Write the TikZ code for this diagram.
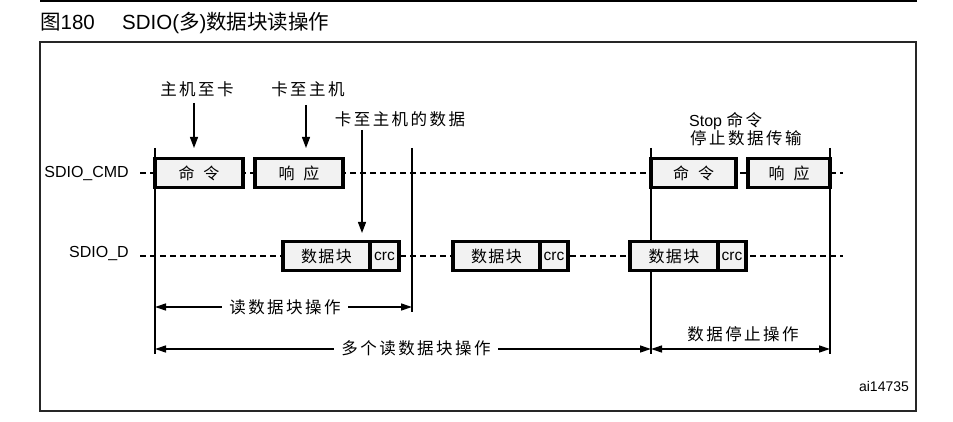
\documentclass[tikz,border=0pt]{standalone}
\usepackage{fontspec}
\setmainfont{Liberation Sans}
\newfontfamily\cjk{Noto Sans CJK SC}
\newfontfamily\cjksp[LetterSpace=15]{Noto Sans CJK SC}
\newfontfamily\cjkbox[LetterSpace=8]{Noto Sans CJK SC}
\usetikzlibrary{arrows.meta}
\definecolor{boxfill}{HTML}{F2F2F2}

\tikzset{
  siglabel/.style={font=\fontsize{16}{18}\selectfont, anchor=base east, inner sep=0pt},
  caption/.style={font=\fontsize{16.5}{18}\selectfont\cjksp, inner sep=0pt},
  framebox/.style={draw=black, line width=3.2pt, fill=boxfill, outer sep=0pt, inner sep=0pt,
                   minimum height=29pt, anchor=north west, font=\fontsize{16}{18}\selectfont\cjkbox},
  crcbox/.style={framebox, font=\fontsize{15.5}{17}\selectfont},
  busline/.style={line width=1.2pt, dash pattern=on 6pt off 4pt},
  marker/.style={line width=1.2pt},
  pointer/.style={line width=1.3pt, -{Triangle[length=11pt,width=8pt]}},
  span/.style={line width=1.3pt, {Triangle[length=11pt,width=7pt]}-{Triangle[length=11pt,width=7pt]}},
  spanlabel/.style={fill=white, inner xsep=7pt, inner ysep=2pt, font=\fontsize{16.5}{18}\selectfont\cjksp}
}

\begin{document}
\begin{tikzpicture}[x=1pt, y=-1pt]
\useasboundingbox (0,0) rectangle (953,422);

% heading rule, title and outer frame
\coordinate (ruleL) at (40,1.2);
\coordinate (ruleR) at (917,1.2);
\draw[line width=1.5pt] (ruleL) -- (ruleR);
\node[anchor=base west, inner sep=0pt, font=\fontsize{20.5}{22}\selectfont] (fig) at (40,30) {{\cjk 图}180};
\node[anchor=base west, inner sep=0pt, font=\fontsize{20.5}{22}\selectfont] (title) at (122,30)
  {SDIO({\cjk 多}){\cjk 数据块读操作}};
\coordinate (frameNW) at (40,42);
\coordinate (frameSE) at (916,411);
\draw[black!85, line width=1.5pt] (frameNW) rectangle (frameSE);

% signal names
\node[siglabel] (cmdname) at (129,178) {SDIO\_CMD};
\node[siglabel] (dname) at (129,258) {SDIO\_D};

% idle bus lines
\coordinate (cmdA) at (140,173);
\coordinate (cmdB) at (843,173);
\coordinate (dA) at (140,256);
\coordinate (dB) at (843,256);
\draw[busline] (cmdA) -- (cmdB);
\draw[busline] (dA) -- (dB);

% timing markers
\coordinate (m1t) at (155,148);  \coordinate (m1b) at (155,354);
\coordinate (m2t) at (412,148);  \coordinate (m2b) at (412,312);
\coordinate (m3t) at (651,148);  \coordinate (m3b) at (651,354);
\coordinate (m4t) at (830,148);  \coordinate (m4b) at (830,354);
\draw[marker] (m1t) -- (m1b);
\draw[marker] (m2t) -- (m2b);
\draw[marker] (m3t) -- (m3b);
\draw[marker] (m4t) -- (m4b);

% command line frames
\node[framebox, minimum width=88pt] (cmd1) at (155,158.5) {命\hspace{9pt}令};
\node[framebox, minimum width=88pt] (rsp1) at (255,158.5) {响\hspace{9pt}应};
\node[framebox, minimum width=85pt] (cmd2) at (651,158.5) {命\hspace{9pt}令};
\node[framebox, minimum width=82pt] (rsp2) at (748,158.5) {响\hspace{9pt}应};

% data line blocks
\node[framebox, minimum width=87pt] (blk1) at (283,241.5) {数据块};
\node[crcbox, minimum width=29pt] (crc1) at (370,241.5) {crc};
\node[framebox, minimum width=87pt] (blk2) at (453,241.5) {数据块};
\node[crcbox, minimum width=28pt] (crc2) at (540,241.5) {crc};
\node[framebox, minimum width=88pt] (blk3) at (630,241.5) {数据块};
\node[crcbox, minimum width=28pt] (crc3) at (718,241.5) {crc};

% direction captions and pointers
\node[caption] (h2c) at (197,89) {主机至卡};
\node[caption] (c2h) at (308,89) {卡至主机};
\node[caption] (c2hd) at (400,119) {卡至主机的数据};
\node[anchor=west, inner sep=0pt, font=\fontsize{16}{18}\selectfont] (stop1) at (689,121)
  {Stop {\fontsize{16.5}{18}\selectfont\cjksp 命令}};
\node[caption, anchor=west] (stop2) at (690,138.5) {停止数据传输};

\coordinate (p1a) at (194,103);  \coordinate (p1b) at (194,148);
\coordinate (p2a) at (306,105);  \coordinate (p2b) at (306,148);
\coordinate (p3a) at (362,130);  \coordinate (p3b) at (362,233);
\draw[pointer] (p1a) -- (p1b);
\draw[pointer] (p2a) -- (p2b);
\draw[pointer] (p3a) -- (p3b);

% operation spans
\coordinate (s1a) at (155,307);  \coordinate (s1b) at (412,307);
\draw[span] (s1a) -- (s1b);
\node[spanlabel] (readop) at (285,307) {读数据块操作};

\coordinate (s2a) at (155,349);  \coordinate (s2b) at (651,349);
\draw[span] (s2a) -- (s2b);
\node[spanlabel] (multiop) at (416,348) {多个读数据块操作};

\coordinate (s3a) at (651,349);  \coordinate (s3b) at (830,349);
\draw[span] (s3a) -- (s3b);
\node[caption] (stopop) at (743,334) {数据停止操作};

% drawing reference
\node[inner sep=0pt, font=\fontsize{14}{16}\selectfont] (ref) at (884,386) {ai14735};
\end{tikzpicture}
\end{document}
